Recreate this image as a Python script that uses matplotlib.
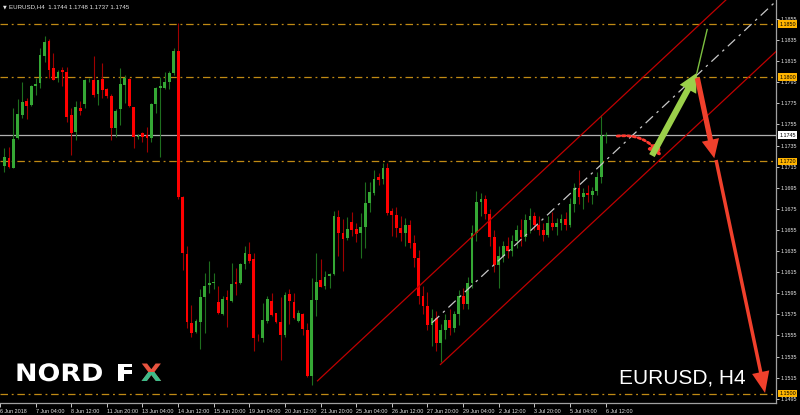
import numpy as np
import matplotlib.pyplot as plt
from matplotlib.patches import Rectangle, FancyArrowPatch, PathPatch
from matplotlib.textpath import TextPath
from matplotlib.font_manager import FontProperties
from matplotlib.transforms import Affine2D

# EURUSD H4 candles, 6 Jun 2018 00:00 .. 6 Jul 2018 12:00
opens = [1.17160, 1.17229, 1.17141, 1.17419, 1.17640, 1.17776, 1.17735, 1.17918, 1.17940, 1.18202,
         1.18341, 1.18082, 1.17988, 1.18067, 1.18044, 1.17640, 1.17476, 1.17710, 1.17741, 1.17972,
         1.17972, 1.17839, 1.17981, 1.17886, 1.17823, 1.17514, 1.17694, 1.17924, 1.17981, 1.17719,
         1.17435, 1.17466, 1.17450, 1.17419, 1.17741, 1.17893, 1.17893, 1.17956, 1.18035, 1.18247,
         1.16866, 1.16322, 1.15671, 1.15586, 1.15681, 1.15918, 1.16025, 1.16044, 1.15870, 1.15753,
         1.15911, 1.15880, 1.16053, 1.16044, 1.16224, 1.16322, 1.16272, 1.15529, 1.15523, 1.15690,
         1.15880, 1.15760, 1.15681, 1.15554, 1.15940, 1.15870, 1.15690, 1.15750, 1.15602, 1.15166,
         1.15886, 1.16076, 1.16019, 1.16114, 1.16133, 1.16670, 1.16524, 1.16471, 1.16629, 1.16560,
         1.16518, 1.16582, 1.16809, 1.16898, 1.17056, 1.17030, 1.17135, 1.16730, 1.16692, 1.1657,
         1.1652, 1.1660, 1.1643, 1.1628, 1.1592, 1.1583, 1.1565, 1.1572, 1.1548, 1.1560,
         1.1570, 1.1562, 1.1575, 1.1592, 1.1585, 1.1605, 1.1652, 1.1682, 1.1684, 1.1670,
         1.1648, 1.1622, 1.1630, 1.1640, 1.1635, 1.1645, 1.1655, 1.1648, 1.1664, 1.1668,
         1.1660, 1.1655, 1.1650, 1.1662, 1.1658, 1.1662, 1.1665, 1.1660, 1.1680, 1.1695,
         1.1686, 1.1690, 1.1688, 1.1692, 1.1705, 1.1744]
highs = [1.17324, 1.17340, 1.17703, 1.17792, 1.17956, 1.17798, 1.17924, 1.17988, 1.18272, 1.18392,
         1.18360, 1.18225, 1.18067, 1.18092, 1.18092, 1.17710, 1.17773, 1.17773, 1.17978, 1.17990,
         1.18199, 1.17972, 1.18130, 1.17893, 1.17836, 1.17694, 1.18082, 1.18019, 1.17988, 1.17719,
         1.17460, 1.17482, 1.17529, 1.17751, 1.17909, 1.18003, 1.18044, 1.18057, 1.18272, 1.18509,
         1.16872, 1.16398, 1.15839, 1.15703, 1.15987, 1.16139, 1.16259, 1.16139, 1.16019, 1.15924,
         1.15981, 1.16234, 1.16193, 1.16234, 1.16398, 1.16439, 1.16328, 1.15560, 1.15861, 1.15927,
         1.15949, 1.15766, 1.15918, 1.15965, 1.15987, 1.15949, 1.15791, 1.15760, 1.15671, 1.16098,
         1.16335, 1.16272, 1.16164, 1.16139, 1.16730, 1.16739, 1.16651, 1.16670, 1.16723, 1.16613,
         1.16708, 1.17008, 1.17008, 1.17119, 1.17094, 1.17188, 1.17182, 1.16755, 1.16765, 1.1668,
         1.1666, 1.1664, 1.1650, 1.1636, 1.1602, 1.1596, 1.1580, 1.1578, 1.1566, 1.1575,
         1.1580, 1.1578, 1.1598, 1.1600, 1.1610, 1.1660, 1.1692, 1.1690, 1.1688, 1.1675,
         1.1655, 1.1640, 1.1645, 1.1648, 1.1650, 1.1660, 1.1665, 1.1670, 1.1676, 1.1672,
         1.1668, 1.1662, 1.1668, 1.1672, 1.1666, 1.1670, 1.1672, 1.1685, 1.1700, 1.1712,
         1.1695, 1.1698, 1.1696, 1.1710, 1.1764, 1.1748]
lows = [1.17103, 1.17134, 1.17134, 1.17412, 1.17608, 1.17602, 1.17728, 1.17830, 1.17899, 1.18146,
        1.17988, 1.17972, 1.17956, 1.17918, 1.17577, 1.17261, 1.17403, 1.17640, 1.17703, 1.17950,
        1.17814, 1.17735, 1.17798, 1.17804, 1.17403, 1.17435, 1.17545, 1.17751, 1.17719, 1.17324,
        1.17410, 1.17387, 1.17292, 1.17387, 1.17656, 1.17245, 1.17886, 1.17886, 1.18019, 1.16840,
        1.16170, 1.15617, 1.15538, 1.15576, 1.15418, 1.15576, 1.15949, 1.15987, 1.15753, 1.15744,
        1.15633, 1.15870, 1.15933, 1.16038, 1.16177, 1.16234, 1.15406, 1.15500, 1.15491, 1.15665,
        1.15734, 1.15665, 1.15317, 1.15538, 1.15658, 1.15703, 1.15681, 1.15554, 1.15159, 1.15080,
        1.15734, 1.16006, 1.15987, 1.15997, 1.16123, 1.16303, 1.16164, 1.16455, 1.16493, 1.16439,
        1.16281, 1.16376, 1.16724, 1.16882, 1.16977, 1.16986, 1.16692, 1.16493, 1.16487, 1.1645,
        1.1640, 1.1638, 1.1620, 1.1585, 1.1575, 1.1560, 1.1545, 1.1540, 1.1530, 1.1552,
        1.1555, 1.1558, 1.1565, 1.1580, 1.1580, 1.1600, 1.1645, 1.1668, 1.1665, 1.1640,
        1.1615, 1.1600, 1.1625, 1.1628, 1.1630, 1.1638, 1.1640, 1.1645, 1.1652, 1.1655,
        1.1650, 1.1645, 1.1648, 1.1655, 1.1650, 1.1655, 1.1655, 1.1658, 1.1672, 1.1680,
        1.1675, 1.1682, 1.1680, 1.1688, 1.1700, 1.1737]
closes = [1.17245, 1.17150, 1.17412, 1.17649, 1.17760, 1.17728, 1.17915, 1.17934, 1.18209, 1.18335,
          1.18067, 1.17972, 1.18051, 1.18051, 1.17624, 1.17466, 1.17719, 1.17678, 1.17972, 1.17975,
          1.17830, 1.17972, 1.17877, 1.17823, 1.17520, 1.17681, 1.17934, 1.17988, 1.17728, 1.17435,
          1.17440, 1.17428, 1.17425, 1.17741, 1.17899, 1.17915, 1.17956, 1.18035, 1.18247, 1.16866,
          1.16328, 1.15681, 1.15576, 1.15690, 1.15911, 1.16019, 1.16044, 1.16060, 1.15760, 1.15895,
          1.15886, 1.16038, 1.16035, 1.16224, 1.16335, 1.16256, 1.15529, 1.15525, 1.15697, 1.15895,
          1.15744, 1.15681, 1.15554, 1.15933, 1.15880, 1.15712, 1.15760, 1.15608, 1.15169, 1.15886,
          1.16060, 1.16012, 1.16107, 1.16133, 1.16682, 1.16524, 1.16461, 1.16559, 1.16550, 1.16509,
          1.16582, 1.16809, 1.16913, 1.17030, 1.17024, 1.17141, 1.16714, 1.16692, 1.16566, 1.1652,
          1.1660, 1.1643, 1.1628, 1.1592, 1.1583, 1.1565, 1.1572, 1.1548, 1.1560, 1.1570,
          1.1562, 1.1575, 1.1592, 1.1585, 1.1605, 1.1652, 1.1682, 1.1684, 1.1670, 1.1648,
          1.1622, 1.1630, 1.1640, 1.1635, 1.1645, 1.1655, 1.1648, 1.1664, 1.1668, 1.1660,
          1.1655, 1.1650, 1.1662, 1.1658, 1.1662, 1.1665, 1.1660, 1.1680, 1.1695, 1.1686,
          1.1690, 1.1688, 1.1692, 1.1705, 1.1744, 1.1745]

date_labels = ["7 Jun 04:00", "8 Jun 12:00", "11 Jun 20:00", "13 Jun 04:00", "14 Jun 12:00",
               "15 Jun 20:00", "19 Jun 04:00", "20 Jun 12:00", "21 Jun 20:00", "25 Jun 04:00",
               "26 Jun 12:00", "27 Jun 20:00", "29 Jun 04:00", "2 Jul 12:00", "3 Jul 20:00",
               "5 Jul 04:00", "6 Jul 12:00"]
first_label = "6 Jun 2018"

levels = [1.1850, 1.1800, 1.1720, 1.1500]
last_price = 1.1745

# channel lines (bar index, price)
chan_upper = ([70.3, 162.0], [1.1512, 1.1873])
chan_mid = ([96.0, 173.3], [1.1567, 1.1872])
chan_lower = ([97.9, 173.3], [1.15275, 1.18243])

# forecast arrows (bar index, price)
dot_arrow = ((137.6, 1.17440), (147.4, 1.17250))
green_arrow = ((145.4, 1.17255), (155.5, 1.18040))
green_tail = ((155.5, 1.18040), (157.8, 1.18450))
red_arrow1 = ((155.6, 1.17990), (159.4, 1.17230))
red_arrow2 = ((159.8, 1.17213), (170.8, 1.15005))

BG = "black"
TXT = "#e6e6e6"
LEVEL_C = "#c08a14"
SMALL = dict(family="Liberation Sans", size=3.9)

fig = plt.figure(figsize=(8, 4.15), dpi=100, facecolor=BG)
ax = fig.add_axes([0, 12 / 415, 776 / 800, 403 / 415])
ax.set_facecolor(BG)

o = np.array(opens); h = np.array(highs); l = np.array(lows); c = np.array(closes)
idx = np.arange(len(o))
up = c >= o
wick_col = np.where(up, "#1e6e1e", "#a00000")
body_col = np.where(up, "#35a835", "#ff0000")
ax.vlines(idx, l, h, colors=wick_col, lw=0.8, zorder=3)
body_h = np.maximum(np.abs(c - o), 0.00004)
ax.bar(idx, body_h, bottom=np.minimum(o, c), width=0.62, color=body_col, zorder=4)

ax.set_xlim(-0.74, 173.26)
ax.set_ylim(1.14910, 1.18730)

for lv in levels:
    ax.axhline(lv, color=LEVEL_C, lw=0.9, dashes=(6, 3, 1.5, 3), zorder=2)
ax.axhline(last_price, color="#b0b0b0", lw=0.9, zorder=2)

ax.plot(*chan_upper, color="#c00000", lw=0.9, zorder=5)
ax.plot(*chan_lower, color="#c00000", lw=0.9, zorder=5)
ax.plot(*chan_mid, color="#c8c8c8", lw=0.9, dashes=(8, 4, 2, 4), zorder=5)

ax.add_patch(FancyArrowPatch(*dot_arrow, connectionstyle="arc3,rad=-0.3",
                             arrowstyle="-|>,head_length=7,head_width=4", color="#ff3a30",
                             lw=2.0, linestyle=(0, (0.9, 1.0)), shrinkA=0, shrinkB=0, zorder=6))
ax.add_patch(FancyArrowPatch(*green_arrow, arrowstyle="simple,head_length=1.5,head_width=1.5,tail_width=0.5",
                             mutation_scale=9, color="#9bd04a", lw=0, shrinkA=0, shrinkB=0, zorder=6))
ax.plot([green_tail[0][0], green_tail[1][0]], [green_tail[0][1], green_tail[1][1]],
        color="#7cc040", lw=1.0, zorder=6)
ax.add_patch(FancyArrowPatch(*red_arrow1, arrowstyle="simple,head_length=1.5,head_width=1.4,tail_width=0.42",
                             mutation_scale=9, color="#f0402c", lw=0, shrinkA=0, shrinkB=0, zorder=6))
ax.add_patch(FancyArrowPatch(*red_arrow2, arrowstyle="simple,head_length=1.7,head_width=1.4,tail_width=0.28",
                             mutation_scale=9, color="#f0402c", lw=0, shrinkA=0, shrinkB=0, zorder=6))

# axes styling
for s in ["top", "left"]:
    ax.spines[s].set_visible(False)
for s in ["right", "bottom"]:
    ax.spines[s].set_color("#a0a0a0")
    ax.spines[s].set_linewidth(0.9)

yt = np.arange(1.1495, 1.18551, 0.002)
ax.yaxis.tick_right()
ax.set_yticks(yt)
ax.set_yticklabels([f"{v:.4f}" for v in yt], fontdict=SMALL)
ax.tick_params(axis="y", colors=TXT, length=2, width=0.6, pad=1.5)

xt = [7 + 8 * k for k in range(len(date_labels))]
ax.set_xticks([-1.0] + xt)
ax.set_xticklabels([first_label] + date_labels, ha="left", fontdict=SMALL)
ax.tick_params(axis="x", colors=TXT, length=3, width=0.6, pad=1.5)

ytr = ax.get_yaxis_transform()
for lv in levels:
    ax.text(1.004, lv, f"{lv:.4f}", transform=ytr, color="black", va="center",
            ha="left", clip_on=False, zorder=10, fontdict=SMALL,
            bbox=dict(boxstyle="square,pad=0.25", fc="#ffb400", ec="none"))
ax.text(1.004, last_price, f"{last_price:.4f}", transform=ytr, color="black",
        va="center", ha="left", clip_on=False, zorder=10, fontdict=SMALL,
        bbox=dict(boxstyle="square,pad=0.25", fc="white", ec="none"))

fig.text(3 / 800, 1 - 7 / 415, "\u25bc", fontsize=3.5, color=TXT, va="center", ha="left")
fig.text(9 / 800, 1 - 7 / 415, "EURUSD,H4  1.1744 1.1748 1.1737 1.1745",
         fontsize=4.4, family="Liberation Sans", color=TXT, va="center", ha="left")

fig.text(619 / 800, 1 - 378 / 415, "EURUSD, H4", fontsize=15, color="white",
         family="Liberation Sans", va="center", ha="left")

# NORD FX logo, stretched bold letters drawn in pixel space
logo_font = FontProperties(family="DejaVu Sans", weight="bold")


def logo_text(s, x, y, color, clip=None):
    tp = TextPath((0, 0), s, size=24, prop=logo_font)
    p = PathPatch(tp, transform=Affine2D().scale(1.12, 1.0).translate(x, 415 - y),
                  color=color, lw=0)
    fig.add_artist(p)
    if clip is not None:
        p.set_clip_path(clip)
    return p


logo_text("NORD", 15, 381, "white")
logo_text("F", 116, 381, "white")
logo_text("X", 141, 381, "#e8533f")
clip = Rectangle((130, 415 - 392), 50, 20, transform=Affine2D())
logo_text("X", 141, 381, "#3dbb8a", clip=clip)

fig.savefig("out.png", dpi=100, facecolor=BG)
